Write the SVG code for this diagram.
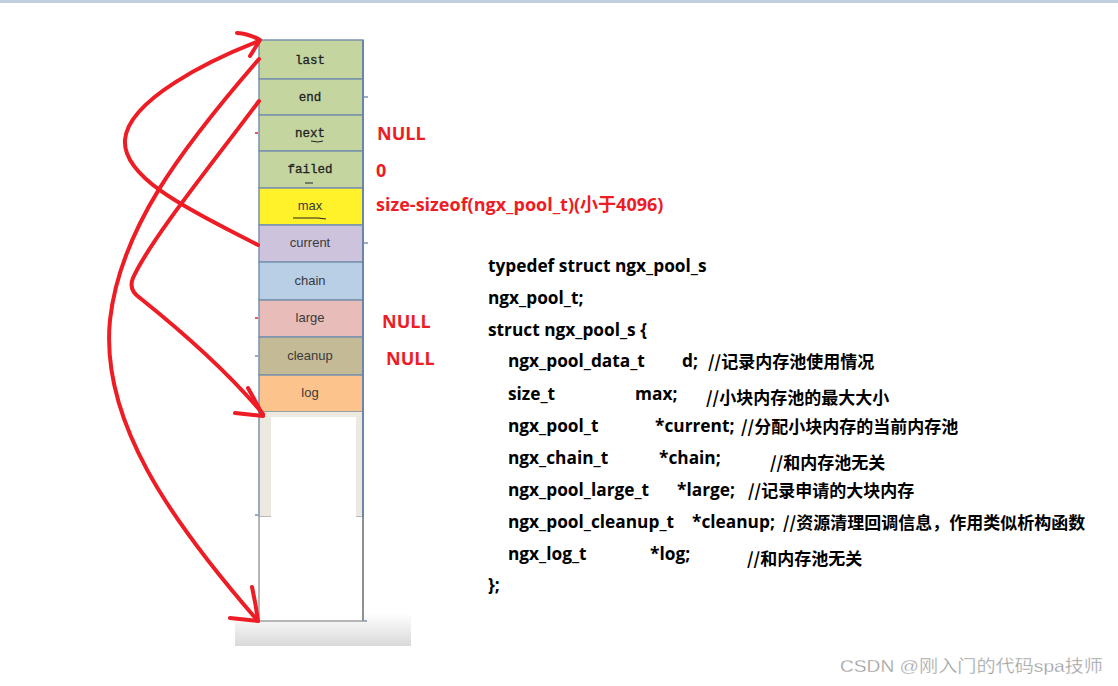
<svg xmlns="http://www.w3.org/2000/svg" width="1118" height="686" viewBox="0 0 1118 686">
<defs>
<linearGradient id="shade" x1="0" y1="0" x2="0" y2="1">
<stop offset="0" stop-color="#ffffff"/>
<stop offset="1" stop-color="#d9d9d9"/>
</linearGradient>
<style>
.cell{stroke:#7a92ae;stroke-width:1.5}
.mono{font-family:"Liberation Mono","DejaVu Sans Mono",monospace;font-size:12.5px;fill:#222;stroke:#222;stroke-width:0.3;text-anchor:middle}
.sans{font-family:"Liberation Sans",Arial,sans-serif;font-size:13px;fill:#3a3a3a;text-anchor:middle}
.red{font-family:"Open Sans","Noto Sans CJK SC",sans-serif;font-weight:700;font-size:18px;fill:#ee1c24}
.code{font-family:"Open Sans","Noto Sans CJK SC",sans-serif;font-weight:700;font-size:17.3px;fill:#000}
.cn{font-family:"Noto Sans CJK SC",sans-serif;font-weight:700;font-size:17px;fill:#000}
.pen{fill:none;stroke:#ee1c24;stroke-width:4;stroke-linecap:round;stroke-linejoin:round}
</style>
</defs>
<rect x="0" y="0" width="1118" height="686" fill="#ffffff"/>
<rect x="0" y="0" width="1118" height="3" fill="#c3cde0"/>

<rect x="235" y="613" width="176" height="33" fill="url(#shade)"/>

<g id="pool">
<g id="cell-last"><rect class="cell" x="259" y="40" width="104" height="39" fill="#c4d59f"/><text class="mono" x="310" y="64">last</text></g>
<g id="cell-end"><rect class="cell" x="259" y="79" width="104" height="36" fill="#c4d59f"/><text class="mono" x="310" y="101">end</text></g>
<g id="cell-next"><rect class="cell" x="259" y="115" width="104" height="36" fill="#c4d59f"/><text class="mono" x="310" y="137">next</text><path d="M311,141 L318,142 L323,141" fill="none" stroke="#222" stroke-width="1"/></g>
<g id="cell-failed"><rect class="cell" x="259" y="151" width="104" height="37" fill="#c4d59f"/><text class="mono" x="310" y="173">failed</text><line x1="305" y1="183" x2="313" y2="183" stroke="#222" stroke-width="1"/></g>
<g id="cell-max"><rect class="cell" x="259" y="188" width="104" height="37" fill="#fff22a"/><text class="sans" x="310" y="210">max</text><path d="M293,218 L318,218 L326,219" fill="none" stroke="#222" stroke-width="1"/></g>
<g id="cell-current"><rect class="cell" x="259" y="225" width="104" height="37" fill="#cdc3dc"/><text class="sans" x="310" y="247">current</text></g>
<g id="cell-chain"><rect class="cell" x="259" y="262" width="104" height="38" fill="#b8cfe6"/><text class="sans" x="310" y="285">chain</text></g>
<g id="cell-large"><rect class="cell" x="259" y="300" width="104" height="37" fill="#e8bcb8"/><text class="sans" x="310" y="322">large</text></g>
<g id="cell-cleanup"><rect class="cell" x="259" y="337" width="104" height="38" fill="#c4bb96"/><text class="sans" x="310" y="360">cleanup</text></g>
<g id="cell-log"><rect class="cell" x="259" y="375" width="104" height="37" fill="#fcc48c"/><text class="sans" x="310" y="397">log</text></g>
<g id="cell-free">
<rect x="259" y="412" width="104" height="105" fill="#ece9e1"/>
<rect x="271" y="417" width="85" height="105" fill="#ffffff"/>
<line x1="259" y1="517" x2="271" y2="517" stroke="#a8a8a8" stroke-width="1.5"/>
<line x1="356" y1="517" x2="363" y2="517" stroke="#a8a8a8" stroke-width="1.5"/>
<line x1="259" y1="412" x2="259" y2="517" stroke="#7a92ae" stroke-width="1.5"/>
<line x1="363" y1="40" x2="363" y2="517" stroke="#6a86a8" stroke-width="2"/>
<path d="M259,517 L259,621 L363,621 L363,517" fill="#ffffff" stroke="#a0a0a0" stroke-width="1.5"/>
<line x1="363" y1="517" x2="363" y2="621" stroke="#909090" stroke-width="2"/>
</g>
<g id="ticks" stroke-width="1.5">
<line x1="364" y1="97" x2="368" y2="97" stroke="#7a92ae"/>
<line x1="364" y1="243" x2="368" y2="243" stroke="#7a92ae"/>
<line x1="255" y1="133" x2="258" y2="133" stroke="#ee1c24"/>
<line x1="255" y1="318" x2="258" y2="318" stroke="#ee1c24"/>
<line x1="255" y1="356" x2="258" y2="356" stroke="#7a92ae"/>
<line x1="255" y1="515" x2="258" y2="515" stroke="#7a92ae"/>
<line x1="364" y1="621" x2="367" y2="621" stroke="#7a92ae"/>
</g>
</g>

<g id="values">
<text class="red" x="377" y="140">NULL</text>
<text class="red" x="376" y="177">0</text>
<text class="red" x="376" y="211" font-size="17">size-sizeof(ngx_pool_t)(小于4096)</text>
<text class="red" x="382" y="328">NULL</text>
<text class="red" x="386" y="365">NULL</text>
</g>

<g id="code">
<text class="code" x="488" y="272">typedef struct ngx_pool_s</text>
<text class="code" x="488" y="304">ngx_pool_t;</text>
<text class="code" x="488" y="336">struct ngx_pool_s {</text>
<text class="code" x="508" y="367">ngx_pool_data_t</text><text class="code" x="682" y="367">d;</text><text class="cn" x="708" y="368">//记录内存池使用情况</text>
<text class="code" x="508" y="400">size_t</text><text class="code" x="635" y="400">max;</text><text class="cn" x="706" y="404">//小块内存池的最大大小</text>
<text class="code" x="508" y="432">ngx_pool_t</text><text class="code" x="655" y="432">*current;</text><text class="cn" x="741" y="433">//分配小块内存的当前内存池</text>
<text class="code" x="508" y="464">ngx_chain_t</text><text class="code" x="659" y="464">*chain;</text><text class="cn" x="770" y="469">//和内存池无关</text>
<text class="code" x="508" y="496">ngx_pool_large_t</text><text class="code" x="677" y="496">*large;</text><text class="cn" x="748" y="497">//记录申请的大块内存</text>
<text class="code" x="508" y="528">ngx_pool_cleanup_t</text><text class="code" x="692" y="528">*cleanup;</text><text class="cn" x="783" y="529">//资源清理回调信息，作用类似析构函数</text>
<text class="code" x="508" y="560">ngx_log_t</text><text class="code" x="650" y="560">*log;</text><text class="cn" x="747" y="565">//和内存池无关</text>
<text class="code" x="488" y="591">};</text>
</g>

<g id="connectors">
<path class="pen" d="M258,245 C200,215 122,180 125,140 C128,100 210,60 259,41"/>
<path class="pen" d="M237,33 Q250,34 260,40 L250,56"/>
<path class="pen" d="M259,59 C180,150 120,230 110,320 C100,420 170,520 258,621"/>
<path class="pen" d="M230,618 L258,621 M252,587 Q256,605 258,621"/>
<path class="pen" d="M259,101 C215,160 150,240 133,278 Q128,290 140,298 C180,330 228,372 263,414"/>
<path class="pen" d="M235,413 L263,416 M248,388 Q256,402 263,416"/>
</g>

<text x="840" y="672" font-family="Liberation Sans, Noto Sans CJK SC, sans-serif" font-size="17" fill="#9a9a9a" stroke="#ffffff" stroke-width="0.3" textLength="263" lengthAdjust="spacingAndGlyphs">CSDN @刚入门的代码spa技师</text>
</svg>
